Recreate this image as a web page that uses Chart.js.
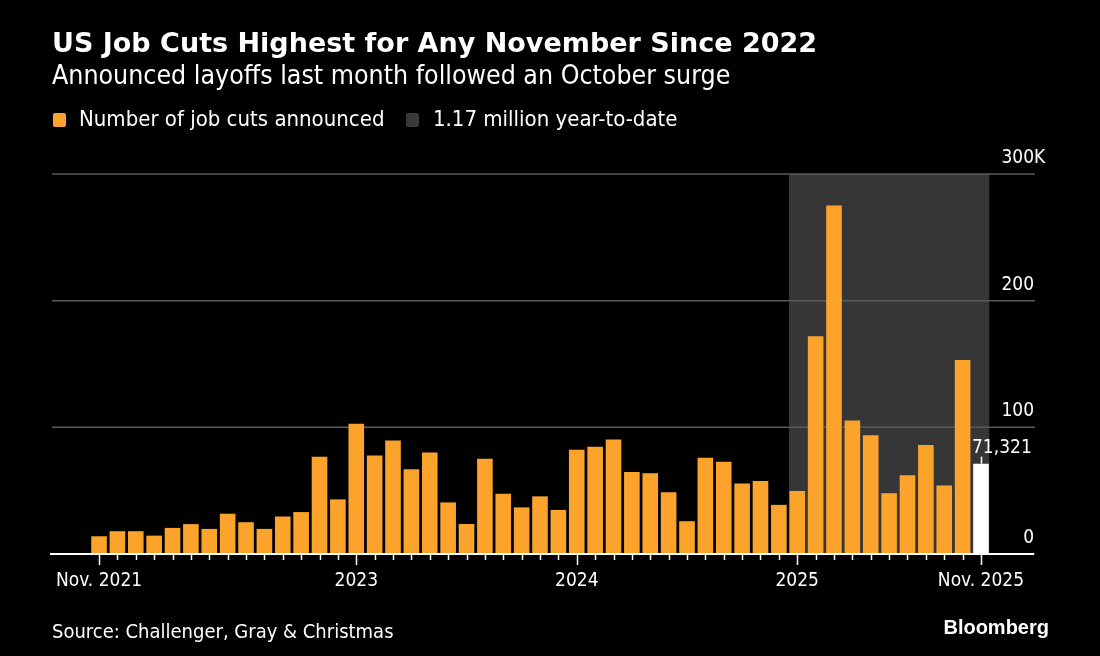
<!DOCTYPE html>
<html>
<head>
<meta charset="utf-8">
<script src="https://cdn.jsdelivr.net/npm/chart.js@4.4.1/dist/chart.umd.min.js"></script>
<style>
  html, body { margin: 0; padding: 0; background: #000; }
  #wrap { position: relative; width: 1100px; height: 656px; background: #000; overflow: hidden; }
  #wrap canvas { position: absolute; left: 0; top: 0; }
  .t { position: absolute; color: #fff; white-space: nowrap; }
  #title { left: 52px; top: 29px; font: bold 27px/1 "DejaVu Sans"; }
  #sub { left: 52px; top: 62px; font: 26.5px/1 "DejaVu Sans Condensed"; }
  .leg { top: 108px; font: 22px/1 "DejaVu Sans Condensed"; }
  .sq { position: absolute; width: 13px; height: 14px; border-radius: 2px; top: 113px; }
  #source { left: 52px; top: 621px; font: 20px/1 "DejaVu Sans Condensed"; }
  #brand { right: 51px; top: 617px; font: bold 20px/1 "Liberation Sans"; }
</style>
</head>
<body>
<div id="wrap">
  <canvas id="myChart" width="1100" height="656"></canvas>
  <div class="t" id="title">US Job Cuts Highest for Any November Since 2022</div>
  <div class="t" id="sub">Announced layoffs last month followed an October surge</div>
  <div class="sq" style="left:53px;background:#fca32c"></div>
  <div class="t leg" style="left:79px">Number of job cuts announced</div>
  <div class="sq" style="left:406px;background:#3a3a3a"></div>
  <div class="t leg" style="left:433px">1.17 million year-to-date</div>
  <div class="t" id="source">Source: Challenger, Gray &amp; Christmas</div>
  <div class="t" id="brand">Bloomberg</div>
</div>
<script>
// monthly announced job cuts, Nov 2021 .. Nov 2025
var months = [
  'Nov 2021', 'Dec 2021',
  'Jan 2022', 'Feb 2022', 'Mar 2022', 'Apr 2022', 'May 2022', 'Jun 2022',
  'Jul 2022', 'Aug 2022', 'Sep 2022', 'Oct 2022', 'Nov 2022', 'Dec 2022',
  'Jan 2023', 'Feb 2023', 'Mar 2023', 'Apr 2023', 'May 2023', 'Jun 2023',
  'Jul 2023', 'Aug 2023', 'Sep 2023', 'Oct 2023', 'Nov 2023', 'Dec 2023',
  'Jan 2024', 'Feb 2024', 'Mar 2024', 'Apr 2024', 'May 2024', 'Jun 2024',
  'Jul 2024', 'Aug 2024', 'Sep 2024', 'Oct 2024', 'Nov 2024', 'Dec 2024',
  'Jan 2025', 'Feb 2025', 'Mar 2025', 'Apr 2025', 'May 2025', 'Jun 2025',
  'Jul 2025', 'Aug 2025', 'Sep 2025', 'Oct 2025', 'Nov 2025'
];
var jobCuts = [
  14000, 18000,
  18000, 14500, 20600, 23600, 19800, 31800, 25100, 19800, 29600, 33100, 76800, 43100,
  102900, 77800, 89700, 67000, 80100, 40700, 23700, 75200, 47500, 36800, 45500, 34800,
  82300, 84600, 90300, 64800, 63800, 48800, 25900, 75900, 72800, 55600, 57700, 38800,
  49800, 172000, 275200, 105400, 93800, 48000, 62100, 86000, 54100, 153100, 71321
];
var ytdFirst = 'Jan 2025';
var ytdLast = 'Nov 2025';
var xTickMonths = ['Nov 2021', 'Jan 2023', 'Jan 2024', 'Jan 2025', 'Nov 2025'];
var xTickLabels = ['Nov. 2021', '2023', '2024', '2025', 'Nov. 2025'];
var yTickValues = [0, 100000, 200000, 300000];
var yTickLabels = ['0', '100', '200', '300'];

var orange = '#fca32c';
var axisFont = '19px "DejaVu Sans Condensed"';

var chartBits = {
  id: 'chartBits',
  beforeDraw: function (chart) {
    var ctx = chart.ctx, x = chart.scales.x, y = chart.scales.y;
    ctx.save();
    ctx.fillStyle = '#000';
    ctx.fillRect(0, 0, chart.width, chart.height);
    // year-to-date shading
    var x0 = x.getPixelForValue(months.indexOf(ytdFirst) - 0.45);
    var x1 = x.getPixelForValue(months.indexOf(ytdLast) + 0.45);
    var top = y.getPixelForValue(300000), bot = y.getPixelForValue(0);
    ctx.fillStyle = '#363636';
    ctx.fillRect(x0, top, x1 - x0, bot - top);
    // gridlines
    ctx.strokeStyle = '#5a5a5a';
    ctx.lineWidth = 1.5;
    yTickValues.forEach(function (v) {
      var py = y.getPixelForValue(v);
      ctx.beginPath();
      ctx.moveTo(chart.chartArea.left, py);
      ctx.lineTo(chart.chartArea.right, py);
      ctx.stroke();
    });
    ctx.restore();
  },
  afterDatasetsDraw: function (chart) {
    var ctx = chart.ctx, x = chart.scales.x, y = chart.scales.y;
    var base = y.getPixelForValue(0);
    ctx.save();
    // baseline
    ctx.strokeStyle = '#fff';
    ctx.lineWidth = 2;
    ctx.beginPath();
    ctx.moveTo(chart.chartArea.left - 2, base);
    ctx.lineTo(chart.chartArea.right - 1, base);
    ctx.stroke();
    // month ticks
    ctx.lineWidth = 1.5;
    months.forEach(function (m, i) {
      var px = Math.round(x.getPixelForValue(i)) + 0.5;
      var len = xTickMonths.indexOf(m) >= 0 ? 11 : 6;
      ctx.beginPath();
      ctx.moveTo(px, base + 1);
      ctx.lineTo(px, base + len);
      ctx.stroke();
    });
    // x labels
    ctx.fillStyle = '#fff';
    ctx.font = axisFont;
    ctx.textAlign = 'center';
    ctx.textBaseline = 'alphabetic';
    xTickMonths.forEach(function (m, i) {
      ctx.fillText(xTickLabels[i], x.getPixelForValue(months.indexOf(m)), base + 32);
    });
    // y labels, the K hangs past the number column
    yTickValues.forEach(function (v, i) {
      var py = y.getPixelForValue(v) - 11;
      ctx.textAlign = 'right';
      ctx.fillText(yTickLabels[i], chart.chartArea.right - 1, py);
      if (i === yTickValues.length - 1) {
        ctx.textAlign = 'left';
        ctx.fillText('K', chart.chartArea.right - 1, py);
      }
    });
    // latest value callout
    var last = chart.getDatasetMeta(0).data[jobCuts.length - 1];
    ctx.lineWidth = 1.5;
    ctx.beginPath();
    ctx.moveTo(Math.round(last.x) + 0.5, last.y - 7);
    ctx.lineTo(Math.round(last.x) + 0.5, last.y);
    ctx.stroke();
    ctx.textAlign = 'left';
    ctx.fillText(jobCuts[jobCuts.length - 1].toLocaleString('en-US'), last.x - 9, last.y - 11);
    ctx.restore();
  }
};

var ctx = document.getElementById('myChart').getContext('2d');
var chart = new Chart(ctx, {
  type: 'bar',
  data: {
    datasets: [{
      label: 'Number of job cuts announced',
      data: jobCuts.map(function (v, i) { return { x: i, y: v }; }),
      backgroundColor: jobCuts.map(function (v, i) { return i === jobCuts.length - 1 ? '#ffffff' : orange; }),
      borderWidth: 0,
      barPercentage: 0.85,
      categoryPercentage: 1.0
    }]
  },
  options: {
    responsive: false,
    animation: false,
    devicePixelRatio: 1,
    layout: { padding: { left: 52, right: 65, top: 174, bottom: 102 } },
    plugins: { legend: { display: false }, tooltip: { enabled: false } },
    scales: {
      x: { type: 'linear', min: -2.56, max: 50.94, offset: false, display: false },
      y: { min: 0, max: 300000, display: false }
    }
  },
  plugins: [chartBits]
});
</script>
</body>
</html>
